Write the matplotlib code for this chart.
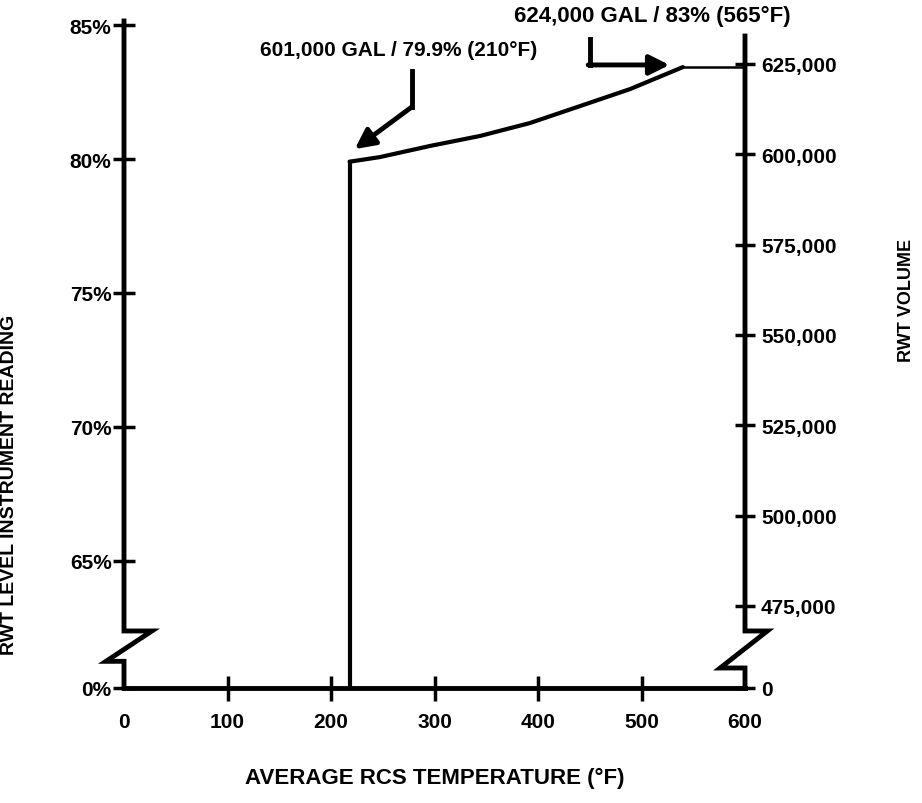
import numpy as np
import matplotlib
matplotlib.use("Agg")
import matplotlib.pyplot as plt
from matplotlib.ticker import FixedLocator, FixedFormatter

plt.rcParams['font.family'] = ['Liberation Sans', 'DejaVu Sans']
plt.rcParams['font.weight'] = 'bold'
plt.rcParams['axes.labelweight'] = 'bold'
plt.rcParams['font.size'] = 15

# --- data ---
temp_curve = [218, 247, 296, 344, 392, 441, 489, 540]        # deg F
level_curve = [79.9, 80.07, 80.49, 80.86, 81.34, 81.98, 82.61, 83.43]  # %
temp_flat = [540, 600]
level_flat = [83.43, 83.43]
temp_step = [218, 218]
level_step = [0, 79.9]

x_ticks = [100, 200, 300, 400, 500]
x_ends = [0, 600]
left_ticks = [0, 65, 70, 75, 80, 85]
left_labels = ['0%', '65%', '70%', '75%', '80%', '85%']
right_ticks = [0, 475000, 500000, 525000, 550000, 575000, 600000, 625000]
right_labels = ['0', '475,000', '500,000', '525,000', '550,000', '575,000',
                '600,000', '625,000']

note1 = '601,000 GAL / 79.9% (210°F)'
note2 = '624,000 GAL / 83% (565°F)'


# broken axes: everything below the first real tick is squeezed
def left_fwd(v):
    v = np.asarray(v, dtype=float)
    return np.where(v < 65, 60.26 + v * (4.74 / 65), v)


def left_inv(f):
    f = np.asarray(f, dtype=float)
    return np.where(f < 65, (f - 60.26) * 65 / 4.74, f)


def right_fwd(v):
    v = np.asarray(v, dtype=float)
    return np.where(v < 475000, 452300 + v * (22700 / 475000), v)


def right_inv(f):
    f = np.asarray(f, dtype=float)
    return np.where(f < 475000, (f - 452300) * 475000 / 22700, f)


fig = plt.figure(figsize=(9.22, 8.04), dpi=100)
ax = fig.add_axes([124 / 922, 115 / 804, 621 / 922, 667 / 804])
ax.set_xlim(0, 600)
ax.set_yscale('function', functions=(left_fwd, left_inv))
ax.set_ylim(0, 85.15)

ax2 = ax.twinx()
ax2.set_yscale('function', functions=(right_fwd, right_inv))
ax2.set_ylim(0, 636900)

for a in (ax, ax2):
    a.patch.set_visible(False)
    for s in ('top', 'left', 'right'):
        a.spines[s].set_visible(False)
ax2.spines['bottom'].set_visible(False)
ax.spines['bottom'].set_linewidth(3.5)

# axis lines with the zigzag breaks
ax.plot([0, 0, 0.045, -0.029, 0, 0], [1, 0.0855, 0.0855, 0.04, 0.04, 0],
        transform=ax.transAxes, color='black', lw=3.5, clip_on=False,
        solid_joinstyle='miter')
ax.plot([1, 1, 1.036, 0.96, 1, 1], [0.9775, 0.0855, 0.0855, 0.03, 0.03, 0],
        transform=ax.transAxes, color='black', lw=3.5, clip_on=False,
        solid_joinstyle='miter')

# ticks
ax.xaxis.set_major_locator(FixedLocator(x_ticks))
ax.xaxis.set_minor_locator(FixedLocator(x_ends))
ax.xaxis.set_major_formatter(FixedFormatter([str(t) for t in x_ticks]))
ax.xaxis.set_minor_formatter(FixedFormatter([str(t) for t in x_ends]))
ax.tick_params(axis='x', which='major', direction='inout', length=18,
               width=2.5, pad=8, labelsize=15)
ax.tick_params(axis='x', which='minor', length=0, pad=17, labelsize=15)

ax.set_yticks(left_ticks)
ax.set_yticklabels(left_labels)
ax.yaxis.set_minor_locator(FixedLocator([]))
ax.tick_params(axis='y', direction='inout', length=16, width=2.5, pad=1,
               labelsize=15)

ax2.set_yticks(right_ticks)
ax2.set_yticklabels(right_labels)
ax2.yaxis.set_minor_locator(FixedLocator([]))
ax2.tick_params(axis='y', direction='inout', length=15, width=2.5, pad=4,
                labelsize=15)

# the curve
ax.plot(temp_step, level_step, color='black', lw=3, clip_on=False)
ax.plot(temp_curve, level_curve, color='black', lw=3,
        solid_capstyle='round', solid_joinstyle='round')
ax.plot(temp_flat, level_flat, color='black', lw=1.8)

# callouts
ax.text(265, 84.1, note1, ha='center', va='center', fontsize=15)
ax.plot([278, 278], [83.28, 81.94], color='black', lw=3.5)
ax.annotate('', xy=(223, 80.37), xytext=(278, 81.94),
            arrowprops=dict(arrowstyle='-|>', color='black', lw=3.5,
                            mutation_scale=30, shrinkA=0, shrinkB=0))

ax.text(510, 85.34, note2, ha='center', va='center', fontsize=16)
ax.plot([450, 450], [84.48, 83.51], color='black', lw=3.5,
        solid_joinstyle='miter')
ax.annotate('', xy=(527, 83.51), xytext=(448.5, 83.51),
            arrowprops=dict(arrowstyle='-|>', color='black', lw=3.5,
                            mutation_scale=30, shrinkA=0, shrinkB=0))

ax.set_xlabel('AVERAGE RCS TEMPERATURE (°F)', fontsize=16, labelpad=26)
ax.set_ylabel('RWT LEVEL INSTRUMENT READING', fontsize=14)
ax.yaxis.set_label_coords(-0.171, 0.306)
ax2.set_ylabel('RWT VOLUME', fontsize=13, rotation=90)
ax2.yaxis.set_label_coords(1.246, 0.583)

fig.savefig('out.png', dpi=100)
